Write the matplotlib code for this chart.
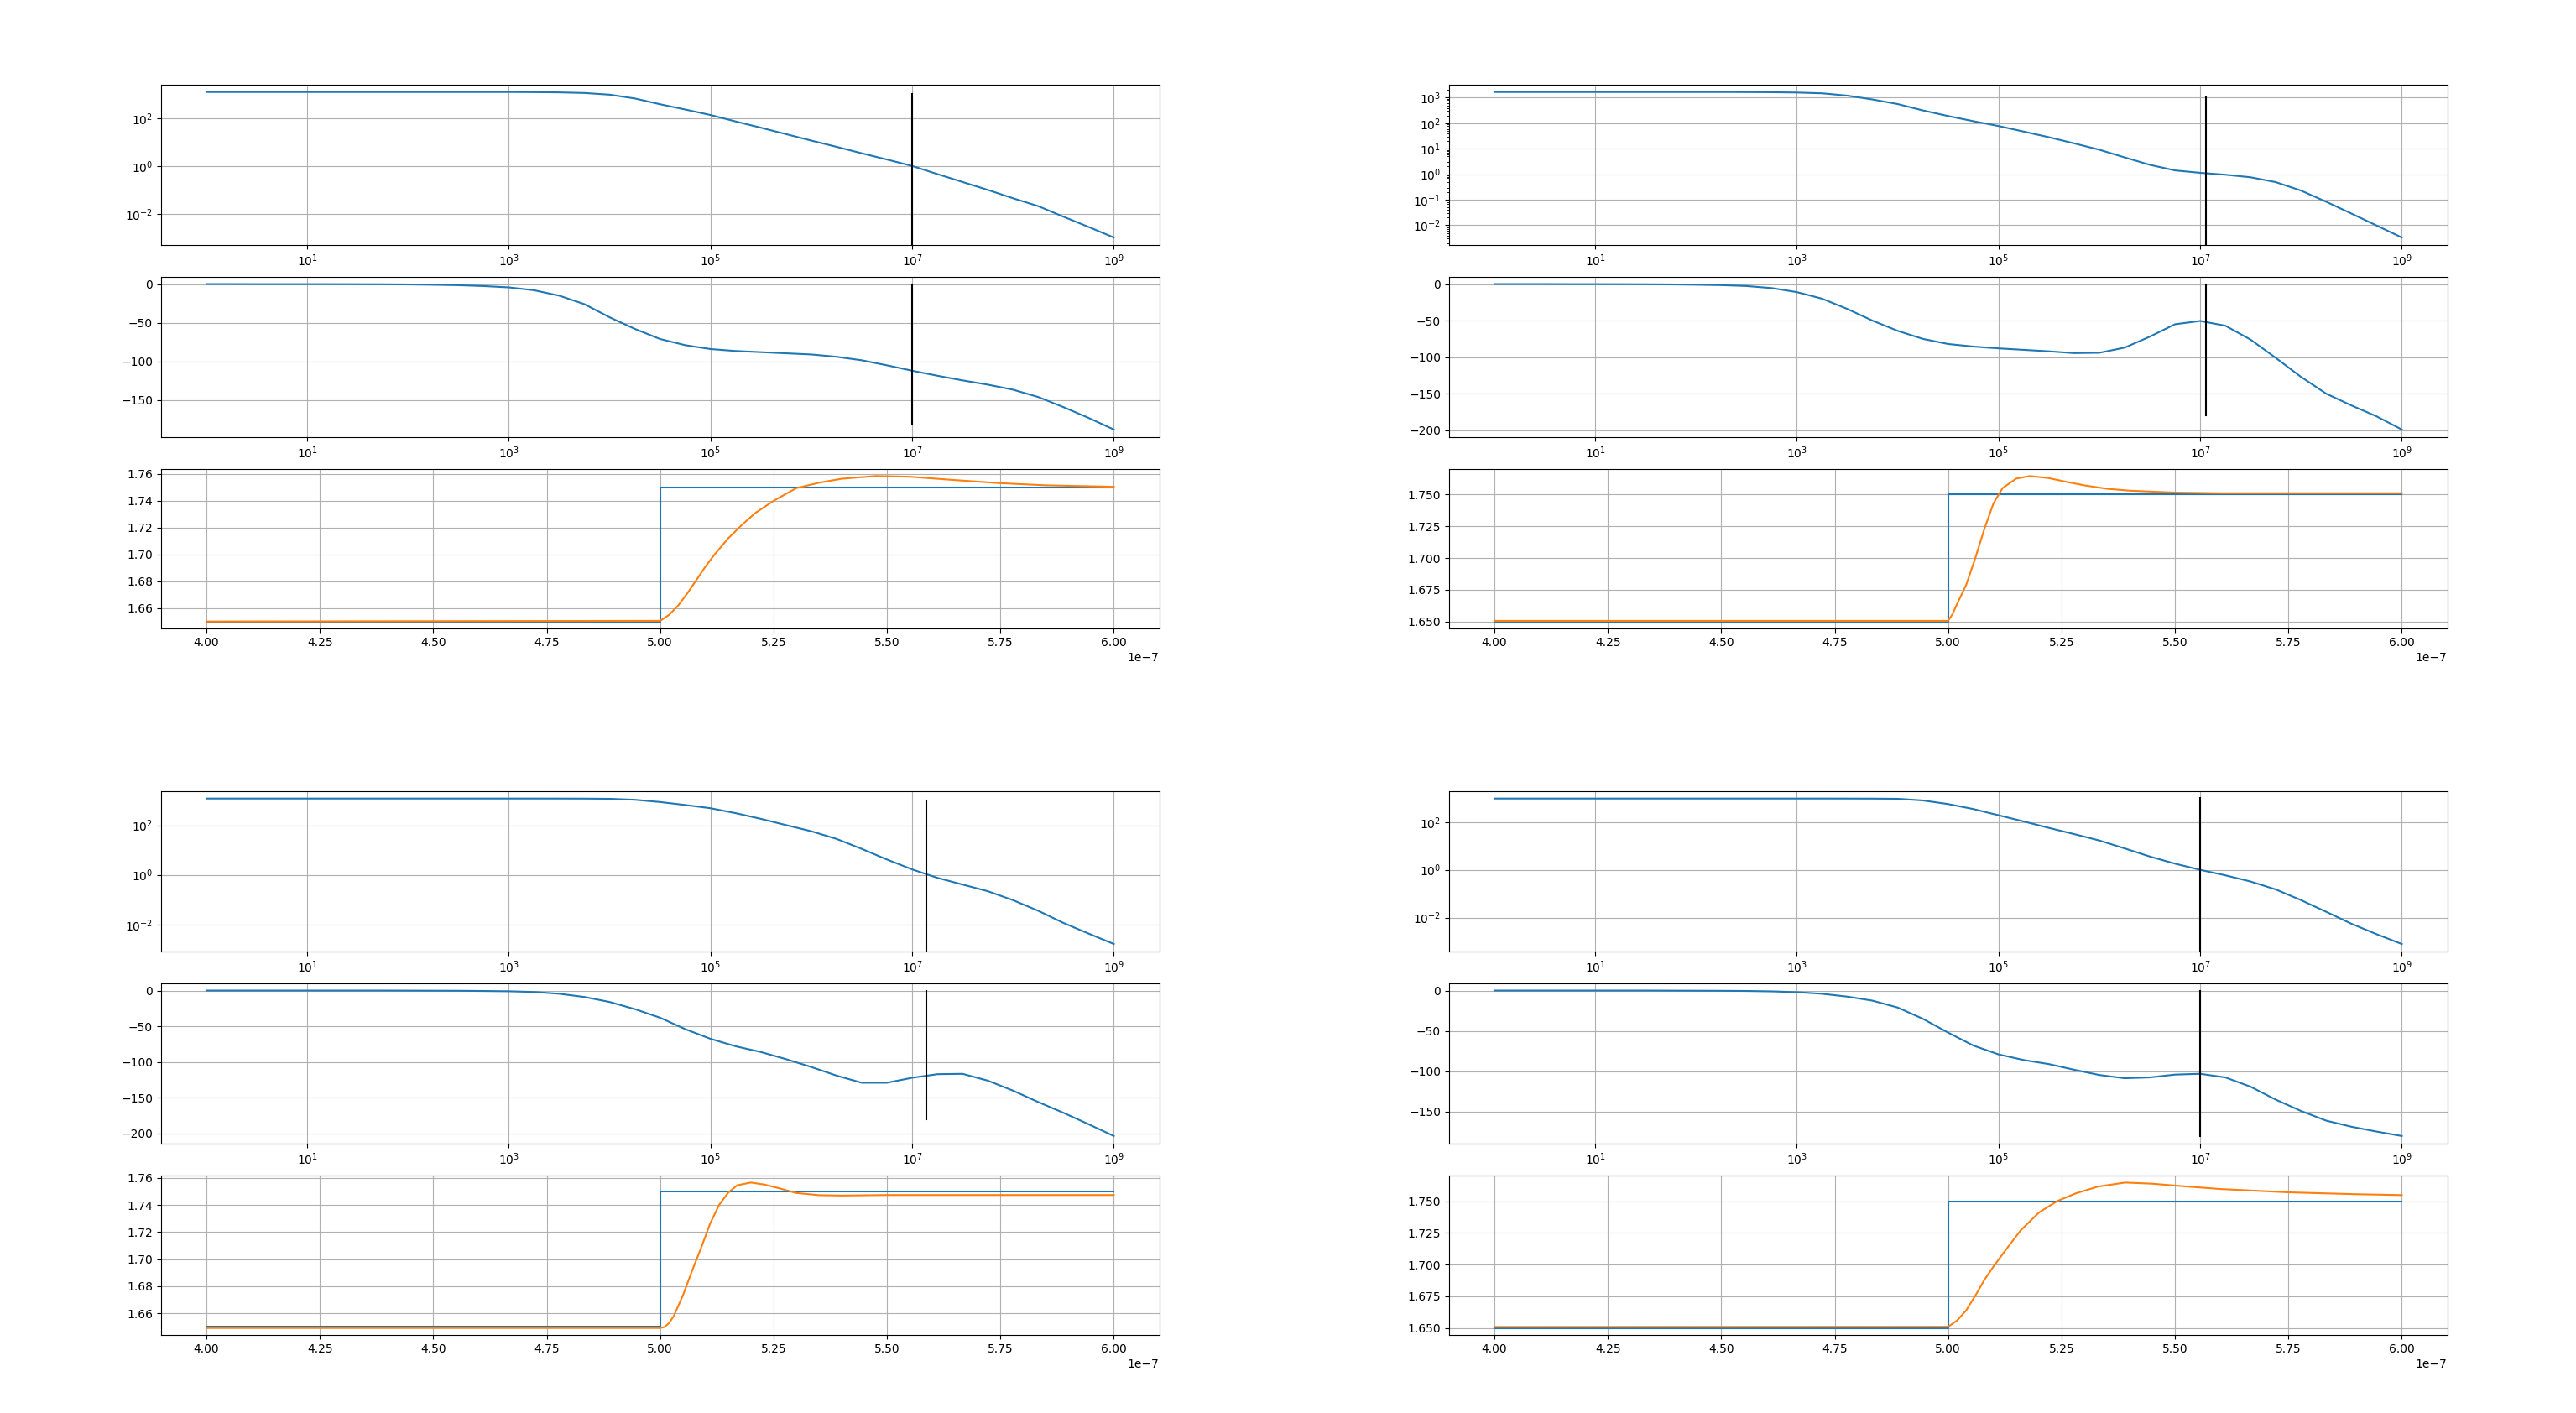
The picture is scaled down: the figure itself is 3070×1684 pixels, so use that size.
# ======================================================
# LOOP DESIGNS: BODE PLOTS + STEP RESPONSES
# four designs, magnitude / phase / step for each
# ======================================================

import matplotlib
matplotlib.use("Agg")
import matplotlib.pyplot as plt
import numpy as np

# ------------------------------
# Frequency grid (quarter decades)
# ------------------------------

freq = [1, 1.78, 3.16, 5.62, 10, 17.8, 31.6, 56.2,
        100, 178, 316, 562, 1e3, 1.78e3, 3.16e3, 5.62e3,
        1e4, 1.78e4, 3.16e4, 5.62e4, 1e5, 1.78e5, 3.16e5, 5.62e5,
        1e6, 1.78e6, 3.16e6, 5.62e6, 1e7, 1.78e7, 3.16e7, 5.62e7,
        1e8, 1.78e8, 3.16e8, 5.62e8, 1e9]

# ------------------------------
# Magnitude |L(jw)|
# ------------------------------

mag_tl = [1230, 1230, 1230, 1230, 1230, 1230, 1230, 1230,
          1230, 1230, 1230, 1230, 1230, 1216, 1189, 1122,
          955, 661, 380, 229, 135, 72.4, 39.8, 21.4,
          11.5, 6.31, 3.39, 1.86, 1.0, 0.457, 0.214, 0.1,
          0.0447, 0.0209, 0.00759, 0.00282, 0.00102]

mag_tr = [1660, 1660, 1660, 1660, 1660, 1660, 1660, 1660,
          1660, 1660, 1650, 1630, 1585, 1479, 1202, 851,
          562, 316, 191, 120, 77.6, 46.8, 28.2, 16.2,
          9.12, 4.57, 2.34, 1.41, 1.135, 0.955, 0.759, 0.490,
          0.229, 0.0832, 0.0288, 0.00977, 0.00331]

mag_bl = [1202, 1202, 1202, 1202, 1202, 1202, 1202, 1202,
          1202, 1202, 1202, 1202, 1202, 1202, 1200, 1195,
          1175, 1072, 871, 661, 490, 309, 182, 102,
          57.5, 28.2, 11.2, 4.17, 1.66, 0.759, 0.407, 0.219,
          0.0955, 0.0355, 0.0115, 0.00427, 0.00162]

mag_br = [977, 977, 977, 977, 977, 977, 977, 977,
          977, 977, 977, 977, 977, 977, 975, 970,
          955, 813, 575, 355, 195, 107, 57.5, 31.6,
          17.0, 7.94, 3.63, 1.82, 1.0, 0.589, 0.324, 0.151,
          0.0537, 0.0174, 0.0055, 0.002, 0.000776]

# ------------------------------
# Phase (degrees)
# ------------------------------

ph_tl = [0, 0, -0.1, -0.1, -0.1, -0.1, -0.2, -0.3,
         -0.5, -0.9, -1.5, -2.6, -4.3, -8, -15, -26,
         -43, -58, -71, -79, -84, -86.5, -88, -89.5,
         -91, -94, -98.5, -105, -112, -118.5, -124.5, -130,
         -136.5, -146, -159, -173, -188]

ph_tr = [0, 0, 0, -0.1, -0.1, -0.2, -0.3, -0.5,
         -0.9, -1.5, -2.7, -5.5, -11, -20, -34, -50,
         -64, -75, -82, -85.5, -88, -90, -92, -94.5,
         -94, -87, -72, -55, -50.5, -57, -76, -101,
         -127, -150, -166, -181, -199]

ph_bl = [0, 0, 0, 0, 0, 0, 0, 0,
         -0.1, -0.2, -0.3, -0.6, -1.0, -2, -4.5, -9,
         -16, -26, -38, -54, -67.5, -78, -86, -96,
         -107, -119, -129, -129, -122, -117, -116.5, -126,
         -140, -156, -171, -187, -203.5]

ph_br = [0, 0, 0, 0, 0, 0, 0, -0.1,
         -0.2, -0.3, -0.5, -1.0, -2, -4, -7.5, -12.5,
         -21, -35, -52, -68, -79, -86, -91, -98,
         -104.5, -108.5, -107.5, -104, -103, -107.5, -119, -135,
         -149, -161, -168.5, -174.5, -180]

# crossover frequency marker (where |L| = 1)
wc = [1.0e7, 1.15e7, 1.38e7, 1.0e7]
marker_top = 1e3
marker_bottom = -180

# ------------------------------
# Step responses (time in units of 1e-7 s)
# ------------------------------

ref_t = [4.0, 5.0, 5.0, 6.0]
ref_v = [1.65, 1.65, 1.75, 1.75]

step_t_tl = [4.00, 5.00, 5.02, 5.04, 5.06, 5.08, 5.10, 5.12, 5.15, 5.18, 5.21,
             5.25, 5.30, 5.35, 5.40, 5.475, 5.55, 5.65, 5.75, 5.85, 6.00]
step_v_tl = [1.650, 1.6505, 1.655, 1.662, 1.671, 1.681, 1.691, 1.700, 1.712, 1.722, 1.731,
             1.740, 1.7495, 1.7535, 1.7565, 1.7585, 1.758, 1.7555, 1.7532, 1.7516, 1.7505]

step_t_tr = [4.00, 5.00, 5.01, 5.02, 5.04, 5.06, 5.08, 5.10, 5.12, 5.15, 5.18,
             5.22, 5.26, 5.30, 5.35, 5.40, 5.50, 5.60, 6.00]
step_v_tr = [1.6505, 1.6505, 1.656, 1.664, 1.679, 1.700, 1.723, 1.743, 1.755, 1.7625, 1.7645,
             1.763, 1.760, 1.7572, 1.7545, 1.753, 1.7515, 1.751, 1.751]

step_t_bl = [4.00, 5.00, 5.01, 5.02, 5.03, 5.05, 5.07, 5.09, 5.11, 5.13,
             5.15, 5.17, 5.20, 5.23, 5.26, 5.30, 5.35, 5.40, 5.50, 6.00]
step_v_bl = [1.6492, 1.6492, 1.650, 1.653, 1.658, 1.673, 1.691, 1.708, 1.726, 1.740,
             1.749, 1.7545, 1.7565, 1.755, 1.7525, 1.7488, 1.7472, 1.7469, 1.7473, 1.7473]

step_t_br = [4.00, 5.00, 5.02, 5.04, 5.06, 5.08, 5.10, 5.13, 5.16, 5.20,
             5.24, 5.28, 5.33, 5.39, 5.45, 5.50, 5.60, 5.75, 5.90, 6.00]
step_v_br = [1.6509, 1.651, 1.656, 1.664, 1.6755, 1.688, 1.6985, 1.713, 1.727, 1.741,
             1.750, 1.756, 1.7615, 1.7647, 1.7638, 1.7623, 1.7596, 1.757, 1.7555, 1.7548]

designs = [
    (mag_tl, ph_tl, step_t_tl, step_v_tl),
    (mag_tr, ph_tr, step_t_tr, step_v_tr),
    (mag_bl, ph_bl, step_t_bl, step_v_bl),
    (mag_br, ph_br, step_t_br, step_v_br),
]

# ------------------------------
# Plot
# ------------------------------

fig = plt.figure(figsize=(30.7, 16.84), dpi=100)
subfigs = fig.subfigures(2, 2).ravel()

for i, (mag, ph, st, sv) in enumerate(designs):
    ax_mag, ax_ph, ax_step = subfigs[i].subplots(3, 1)

    ax_mag.loglog(freq, mag)
    ylim = ax_mag.get_ylim()
    # marker runs down past the bottom edge
    ax_mag.plot([wc[i], wc[i]], [1e-12, marker_top], color="k")
    ax_mag.set_ylim(ylim)
    ax_mag.grid()

    ax_ph.semilogx(freq, ph)
    ax_ph.plot([wc[i], wc[i]], [marker_bottom, 0], color="k")
    ax_ph.grid()

    ax_step.plot(np.array(ref_t) * 1e-7, ref_v)
    ax_step.plot(np.array(st) * 1e-7, sv)
    ax_step.grid()

fig.savefig("out.png")
